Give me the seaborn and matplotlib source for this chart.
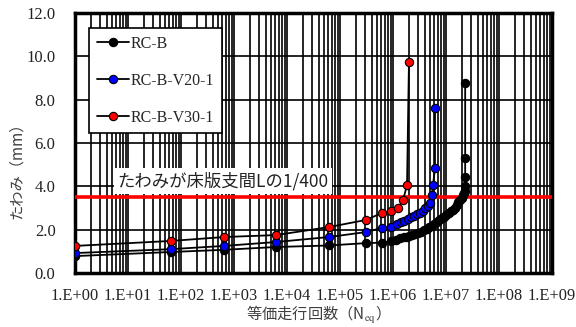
import matplotlib
matplotlib.use("Agg")
import math
import matplotlib.pyplot as plt
import matplotlib.ticker as mticker
import seaborn as sns
import pandas as pd

# data
rcb_n = [1, 65, 650, 6200, 62000, 3.1e5, 6.2e5, 9.2e5, 1.15e6, 1.35e6, 1.6e6, 1.8e6,
         2.0e6, 2.3e6, 2.6e6, 3.0e6, 3.4e6, 3.8e6, 4.3e6, 4.8e6, 5.4e6, 6.0e6, 6.7e6,
         7.5e6, 8.3e6, 9.2e6, 1.02e7, 1.12e7, 1.22e7, 1.33e7, 1.45e7, 1.58e7, 1.72e7,
         1.87e7, 2.0e7, 2.12e7, 2.22e7, 2.28e7, 2.3e7, 2.3e7, 2.3e7, 2.3e7]
rcb_y = [0.78, 0.97, 1.07, 1.2, 1.27, 1.38, 1.4, 1.47, 1.53, 1.6, 1.64, 1.68,
         1.71, 1.75, 1.79, 1.85, 1.91, 1.97, 2.04, 2.11, 2.19, 2.27, 2.36,
         2.44, 2.52, 2.6, 2.68, 2.76, 2.84, 2.92, 3.02, 3.14, 3.26,
         3.38, 3.48, 3.6, 3.7, 3.8, 4.0, 4.45, 5.3, 8.75]

v20_n = [1, 65, 650, 6200, 62000, 3.1e5, 6.2e5, 9.2e5, 1.19e6, 1.42e6, 1.61e6, 1.92e6,
         2.19e6, 2.49e6, 2.84e6, 3.23e6, 3.68e6, 4.02e6, 4.57e6, 4.99e6, 5.44e6, 5.69e6,
         6.2e6, 6.2e6]
v20_y = [0.92, 1.10, 1.25, 1.43, 1.66, 1.89, 2.08, 2.14, 2.26, 2.35, 2.4, 2.49,
         2.58, 2.63, 2.72, 2.77, 2.86, 3.0, 3.09, 3.23, 3.6, 4.06, 4.84, 7.6]

v30_n = [1, 65, 650, 6200, 62000, 3.1e5, 6.2e5, 9.2e5, 1.24e6, 1.55e6, 1.84e6, 2.0e6]
v30_y = [1.25, 1.48, 1.66, 1.75, 2.12, 2.45, 2.77, 2.86, 3.0, 3.37, 4.06, 9.74]

series_names = ["RC-B", "RC-B-V20-1", "RC-B-V30-1"]
face_colors = ["black", "#0000ff", "#ff0000"]
limit_value = 3.5
limit_label = "たわみが床版支間Lの1/400"

serif = ["Liberation Serif", "DejaVu Serif"]
jp = ["Noto Sans CJK JP", "DejaVu Sans"]

sns.set_style("white")
plt.rcParams["font.family"] = serif
plt.rcParams["mathtext.fontset"] = "stix"

fig, ax = plt.subplots(figsize=(5.76, 3.27), dpi=100)
fig.subplots_adjust(left=75 / 576, right=552 / 576, top=1 - 13 / 327, bottom=1 - 273 / 327)

ax.set_xscale("log")

# limit line
ax.axhline(limit_value, color="#ff0000", lw=2.6, zorder=3)

frames = [(rcb_n, rcb_y), (v20_n, v20_y), (v30_n, v30_y)]
for (n, y), name, fc in zip(frames, series_names, face_colors):
    df = pd.DataFrame({"N": n, "d": y})
    sns.lineplot(data=df, x="N", y="d", ax=ax, estimator=None, sort=False,
                 color="black", lw=1.3, marker="o", markersize=6,
                 markerfacecolor=fc, markeredgecolor="black", markeredgewidth=0.8,
                 label=name, zorder=5)

ax.set_xlim(1, 1e9)
ax.set_ylim(0, 12)
ax.xaxis.set_major_locator(mticker.LogLocator(base=10, numticks=20))
ax.xaxis.set_minor_locator(mticker.LogLocator(base=10, subs=range(2, 10), numticks=200))
ax.xaxis.set_minor_formatter(mticker.NullFormatter())
ax.xaxis.set_major_formatter(mticker.FuncFormatter(lambda v, p: "1.E+%02d" % round(math.log10(v))))
ax.yaxis.set_major_locator(mticker.MultipleLocator(2))
ax.yaxis.set_major_formatter(mticker.FormatStrFormatter("%.1f"))

ax.grid(True, which="both", axis="x", color="black", lw=1.2)
ax.grid(True, which="major", axis="y", color="black", lw=1.2)
ax.set_axisbelow(True)

ax.tick_params(axis="x", which="major", direction="in", length=4, width=2.5,
               labelsize=11.8, pad=11, colors="black", labelcolor="#222222")
ax.tick_params(axis="x", which="minor", length=0)
ax.tick_params(axis="y", length=0, labelsize=12, pad=14, labelcolor="#222222")
for s in ax.spines.values():
    s.set_visible(True)
    s.set_color("black")
    s.set_linewidth(2.5)

ax.set_xlabel("等価走行回数（N$_{\\mathrm{eq}}$）", family=jp, fontsize=11, color="#404040")
ax.set_ylabel("たわみ（mm）", family=jp, fontsize=11, color="#404040")
ax.xaxis.set_label_coords(0.5, -0.12)
ax.yaxis.set_label_coords(-0.105, 0.41)

ax.text((117 - 75) / 477, (273 - 181) / 260, limit_label, transform=ax.transAxes,
        family=jp, fontsize=12.5, color="#222222", ha="left", va="center", zorder=4,
        bbox=dict(boxstyle="square,pad=0.2", fc="white", ec="none"))

leg = ax.legend(loc="upper left", bbox_to_anchor=((89 - 75) / 477, (273 - 28) / 260),
                fontsize=11.5, frameon=True, fancybox=False, framealpha=1,
                edgecolor="black", handlelength=2.0, handletextpad=0.1,
                labelspacing=1.3, borderpad=0.5, borderaxespad=0)
leg.get_frame().set_linewidth(1.2)
leg.set_zorder(6)

fig.savefig("out.png", dpi=100)
